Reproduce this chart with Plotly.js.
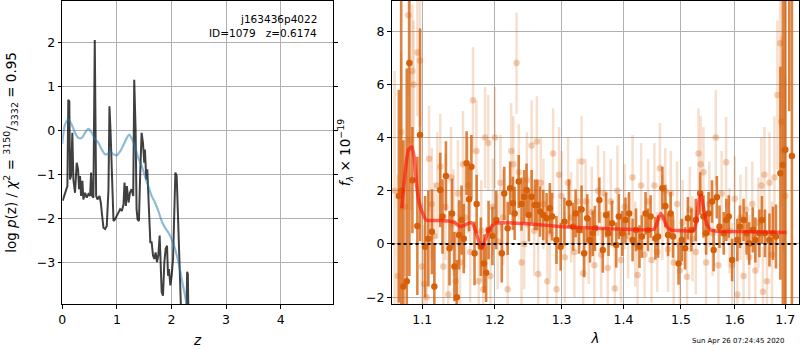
<!DOCTYPE html>
<html>
<head>
<meta charset="utf-8">
<script src="https://cdn.plot.ly/plotly-3.0.1.min.js"></script>
<style>html,body{margin:0;padding:0;background:#fff;}#chart{width:800px;height:350px;}</style>
</head>
<body>
<div id="chart"></div>
<script>
// ---------- left panel: log p(z) ----------
const zPz = [
 0.007,0.05,0.093,0.11,0.129,0.141,0.16,0.184,0.203,0.233,
 0.264,0.289,0.307,0.325,0.344,0.368,0.386,0.417,0.448,0.478,
 0.509,0.528,0.546,0.57,0.595,0.62,0.644,0.681,0.705,0.73,
 0.754,0.785,0.815,0.846,0.864,0.883,0.901,0.92,0.938,0.968,
 0.999,1.03,1.06,1.091,1.122,1.14,1.165,1.183,1.214,1.239,
 1.269,1.3,1.318,1.343,1.361,1.379,1.404,1.428,1.453,1.478,
 1.502,1.514,1.539,1.557,1.576,1.594,1.613,1.637,1.662,1.686,
 1.71,1.735,1.759,1.784,1.802,1.821,1.845,1.87,1.894,1.919,
 1.937,1.955,1.98,2.004,2.029,2.047,2.072,2.096,2.115,2.133,
 2.158,2.2,2.27,2.287,2.30,2.315,2.35];
const logPz = [
 -1.59,-1.41,-1.26,0.70,0.66,-1.11,-1.03,-0.05,-1.11,-1.41,
 -0.73,-0.88,-1.33,-1.03,-1.48,-1.14,-1.56,-1.41,-1.52,-1.44,
 -1.48,-0.95,-1.48,-1.52,2.05,-1.48,-1.56,-1.48,-1.63,-1.93,
 -2.20,-2.23,-2.16,-1.33,0.55,0.02,-0.73,-1.71,-2.05,-2.01,
 -1.93,-1.86,-1.78,-1.82,-1.67,-1.18,-1.71,-1.26,-1.63,-1.41,
 -1.33,-1.48,1.15,0.02,-1.78,-2.01,-2.05,-0.95,-0.05,-0.28,
 -0.73,-0.43,-1.11,-0.88,-1.48,-1.93,-2.53,-2.53,-2.83,-2.91,
 -2.76,-2.98,-2.83,-2.38,-2.98,-3.66,-3.74,-2.98,-2.68,-2.61,
 -3.29,-3.14,-3.51,-3.29,-2.91,-2.23,-0.95,-1.03,-1.93,-2.23,
 -4.4,-5.0,-4.6,-3.2,-3.25,-4.5,-5.0];
const zSmooth = [0.0,0.007,0.05,0.11,0.172,0.233,0.295,0.356,0.417,0.478,
 0.54,0.601,0.662,0.723,0.785,0.846,0.877,0.938,0.999,1.06,
 1.122,1.183,1.226,1.269,1.33,1.392,1.453,1.514,1.576,1.637,
 1.698,1.759,1.821,1.882,1.943,2.004,2.066,2.127,2.188,2.249,2.28,2.32];
const logPzSmooth = [-0.30,-0.20,0.135,0.25,0.135,-0.05,-0.165,-0.165,-0.05,0.04,
 -0.05,-0.20,-0.28,-0.43,-0.54,-0.52,-0.47,-0.54,-0.56,-0.47,
 -0.32,-0.165,-0.09,-0.17,-0.35,-0.62,-0.80,-1.03,-1.26,-1.48,
 -1.63,-1.82,-2.05,-2.20,-2.31,-2.46,-2.68,-2.98,-3.36,-3.74,-3.95,-4.3];
const zTicks = [0,1,2,3,4];
const pzTicks = [-3,-2,-1,0,1,2];

// ---------- right panel: spectrum ----------
const lamDark = [
 1.0695,1.0725,1.0753,1.0797,1.0831,1.087,1.0935,1.097,1.1037,1.108,
 1.1127,1.116,1.1239,1.127,1.1316,1.1365,1.14,1.1432,1.1465,1.1496,
 1.153,1.156,1.16,1.1635,1.1667,1.1711,1.1741,1.18,1.1844,1.1875,
 1.191,1.1965,1.202,1.21,1.2136,1.2186,1.2222,1.2262,1.2288,1.2348,
 1.239,1.2429,1.2465,1.25,1.2541,1.2591,1.2626,1.2667,1.2717,1.2768,
 1.2818,1.2853,1.292,1.2985,1.3044,1.3115,1.318,1.322,1.3275,1.3315,
 1.3357,1.3406,1.345,1.3495,1.353,1.3602,1.3658,1.3713,1.3752,1.381,
 1.388,1.3923,1.398,1.4035,1.4096,1.4155,1.4213,1.4272,1.4313,1.4377,
 1.4418,1.4464,1.4547,1.4594,1.467,1.4723,1.477,1.4816,1.4858,1.4957,
 1.5015,1.5075,1.5125,1.519,1.527,1.535,1.541,1.546,1.5505,1.557,
 1.56,1.566,1.571,1.579,1.584,1.5885,1.595,1.605,1.61,1.617,
 1.623,1.628,1.635,1.64,1.648,1.653,1.659,1.668,1.675,1.681,
 1.69,1.695,1.70,1.708,1.7135];
const fluxDark = [
 1.8,2.0,-1.6,-1.4,6.8,2.4,0.68,4.1,-0.1,0.2,
 0.46,-1.6,2.03,1.03,2.56,-0.16,1.15,-0.85,-2.0,0.34,
 0.9,0.2,3.04,1.68,2.9,-0.35,1.5,-0.1,-0.73,-1.08,
 0.53,0.3,0.9,-0.35,1.9,0.59,2.1,1.53,1.15,2.35,
 1.5,1.78,2.03,1.09,1.78,1.47,1.47,1.22,1.09,0.97,
 1.34,1.03,0.15,-0.1,0.84,1.53,0.65,1.15,0.53,1.3,
 -0.35,0.97,0.15,0.4,0.59,1.65,-0.23,1.09,0.4,0.78,
 -0.04,1.03,0.4,0.9,1.15,0.15,0.53,-0.1,0.28,1.15,
 0.53,1.03,0.21,0.28,2.1,1.43,0.34,1.15,0.28,-0.73,
 0.15,-0.16,0.97,0.53,0.9,1.9,1.03,0.4,1.15,1.6,
 -0.23,1.76,0.65,0.4,0.9,1.03,-0.6,0.15,0.65,0.9,
 0.4,0.02,0.53,0.15,0.4,0.9,0.4,0.15,0.4,0.28,
 2.66,2.97,3.54,10.5,3.31];
const errDark = [
 4.0,8.0,5.5,8.0,8.0,2.0,2.6,4.0,1.9,1.8,
 1.6,1.6,1.4,1.4,1.3,1.4,1.3,1.3,1.4,1.3,
 1.3,1.3,1.2,1.2,1.2,1.2,1.1,1.1,1.1,1.1,
 1.1,1.1,1.1,1.1,1.0,1.0,1.0,1.0,1.0,1.0,
 1.0,1.0,1.0,1.0,1.0,0.95,0.95,0.95,0.95,0.95,
 0.95,0.9,0.9,0.9,0.9,0.9,0.9,0.9,0.9,0.9,
 0.9,0.9,0.85,0.85,0.85,0.85,0.85,0.85,0.85,0.85,
 0.85,0.85,0.85,0.85,0.8,0.8,0.8,0.8,0.8,0.8,
 0.8,0.8,0.8,0.8,0.8,0.8,0.8,0.8,0.8,0.8,
 0.8,0.8,0.8,0.8,0.8,0.8,0.8,0.8,0.8,0.8,
 0.8,0.8,0.8,0.8,0.8,0.8,0.8,0.8,0.8,0.8,
 0.8,0.8,0.85,0.85,0.9,0.9,0.9,1.0,1.0,1.2,
 4.0,6.5,8.0,5.5,7.0];

const lamLight = [
 1.064,1.068,1.0725,1.0775,1.0818,1.0845,1.087,1.0885,1.0935,1.097,
 1.0995,1.1025,1.1058,1.109,1.1125,1.116,1.12,1.124,1.1281,1.131,
 1.1348,1.1385,1.142,1.145,1.148,1.151,1.155,1.158,1.162,1.165,
 1.169,1.1737,1.177,1.1806,1.1835,1.186,1.1906,1.1937,1.197,1.2,
 1.204,1.208,1.212,1.2186,1.2238,1.227,1.2316,1.235,1.239,1.243,
 1.247,1.2541,1.258,1.262,1.264,1.268,1.272,1.278,1.282,1.2868,
 1.292,1.296,1.3,1.305,1.31,1.315,1.32,1.325,1.3315,1.334,
 1.338,1.343,1.348,1.352,1.358,1.363,1.368,1.374,1.379,1.3857,
 1.39,1.396,1.402,1.408,1.4155,1.42,1.424,1.43,1.436,1.442,
 1.448,1.453,1.458,1.4627,1.467,1.472,1.477,1.482,1.487,1.493,
 1.498,1.503,1.511,1.516,1.521,1.527,1.532,1.536,1.541,1.546,
 1.552,1.558,1.564,1.569,1.575,1.5836,1.59,1.595,1.6,1.605,
 1.611,1.617,1.622,1.628,1.634,1.64,1.646,1.652,1.655,1.658,
 1.663,1.668,1.673,1.678,1.684,1.6895,1.692,1.696,1.7];
const fluxLight = [
 2.0,-1.2,4.2,1.4,8.6,3.9,6.5,6.0,7.2,6.9,
 -0.85,-1.5,-2.0,3.2,1.5,0.3,2.2,2.9,-0.85,1.4,
 -1.9,2.5,0.8,-1.4,1.9,-0.7,3.0,1.0,2.2,-0.3,
 5.4,3.5,-1.4,0.5,-1.7,4.0,3.8,-1.2,1.4,4.0,
 0.1,2.3,1.0,-1.7,3.5,3.0,6.8,2.7,-0.7,0.0,
 2.4,3.7,0.5,3.85,-1.13,2.3,1.5,-1.4,0.4,3.4,
 -1.7,2.6,1.8,-0.5,2.3,1.0,-0.3,1.6,3.1,-1.1,
 1.6,0.1,1.2,-0.8,2.0,-0.4,1.9,-0.9,1.6,-1.67,
 2.0,-0.6,1.4,0.3,2.5,0.0,-1.17,2.2,-0.4,1.6,
 -0.6,2.2,-0.3,2.85,1.0,2.0,-0.2,1.9,-0.7,1.5,
 -1.0,0.8,-1.23,1.3,0.2,-0.3,3.4,3.0,2.7,-0.7,
 1.5,0.4,4.0,-0.8,1.9,3.07,0.5,-0.8,1.7,-1.9,
 1.0,-1.2,1.3,-0.5,1.5,-1.0,0.8,2.2,-1.8,2.6,
 -1.4,2.3,-0.4,2.5,5.6,7.55,4.6,3.5,1.8];
const errLight = [
 4.5,3.8,3.0,2.6,3.0,2.6,2.5,2.4,2.4,2.5,
 2.4,2.2,2.2,2.0,2.1,2.0,2.0,2.0,1.9,2.0,
 1.9,1.9,2.0,1.9,2.0,1.8,2.0,1.9,1.8,1.9,
 2.0,1.9,1.9,1.9,1.8,1.9,1.8,1.8,1.8,1.9,
 1.8,1.8,1.8,1.8,1.8,1.8,1.9,1.8,1.7,1.7,
 1.8,1.7,1.7,1.7,1.7,1.7,1.7,1.7,1.7,1.7,
 1.7,1.8,1.7,1.7,1.7,1.7,1.7,1.6,1.7,1.7,
 1.6,1.6,1.7,1.6,1.7,1.6,1.6,1.6,1.6,1.6,
 1.7,1.6,1.6,1.6,1.6,1.6,1.6,1.6,1.6,1.6,
 1.6,1.6,1.5,1.7,1.6,1.6,1.6,1.6,1.6,1.6,
 1.6,1.6,1.6,1.6,1.6,1.6,1.7,1.8,1.7,1.6,
 1.6,1.6,1.8,1.6,1.6,1.7,1.6,1.6,1.6,1.6,
 1.6,1.6,1.6,1.6,1.6,1.7,1.7,1.8,1.7,1.8,
 1.8,1.9,2.0,2.3,2.8,3.2,3.2,3.8,4.5];

const lamModel = [1.0733,1.0775,1.0818,1.0862,1.0892,1.0927,1.0961,1.1005,1.105,1.1104,
 1.1239,1.1373,1.144,1.1507,1.155,1.16,1.1667,1.17,1.1737,1.178,
 1.1816,1.1847,1.1892,1.195,1.2005,1.2105,1.2515,1.3025,1.3555,1.4066,
 1.452,1.457,1.4612,1.4644,1.469,1.475,1.482,1.5,1.5228,1.5285,
 1.533,1.537,1.541,1.5466,1.5545,1.563,1.6245,1.7025];
const fluxModel = [1.34,2.66,3.54,3.66,3.29,2.16,1.53,1.15,0.9,0.88,
 0.88,0.85,0.8,0.65,0.68,0.75,0.8,0.68,0.4,0.03,
 -0.16,0.03,0.4,0.65,0.78,0.8,0.75,0.65,0.59,0.55,
 0.55,0.75,1.03,1.15,0.97,0.65,0.53,0.5,0.5,0.9,
 1.66,1.84,1.4,0.78,0.53,0.49,0.46,0.43];
const lamTicks = [1.1,1.2,1.3,1.4,1.5,1.6,1.7];
const lamTickText = ['1.1','1.2','1.3','1.4','1.5','1.6','1.7'];
const fluxTicks = [-2,0,2,4,6,8];

const ORANGE = '214,96,10';
const FONT = 'DejaVu Sans, sans-serif';

const traces = [
  {x: zPz, y: logPz, xaxis:'x', yaxis:'y', mode:'lines', type:'scatter',
   line:{color:'rgba(0,0,0,0.75)', width:2}, hoverinfo:'skip'},
  {x: zSmooth, y: logPzSmooth, xaxis:'x', yaxis:'y', mode:'lines', type:'scatter',
   line:{color:'rgba(31,119,180,0.5)', width:2.2, shape:'spline', smoothing:0.8}, hoverinfo:'skip'},
  {x: lamLight, y: fluxLight, xaxis:'x2', yaxis:'y2', mode:'markers', type:'scatter',
   marker:{color:'rgba('+ORANGE+',0.3)', size:6.5},
   error_y:{type:'data', array: errLight, visible:true, thickness:2.5, width:0, color:'rgba('+ORANGE+',0.2)'},
   hoverinfo:'skip'},
  {x: lamDark, y: fluxDark, xaxis:'x2', yaxis:'y2', mode:'markers', type:'scatter',
   marker:{color:'rgb('+ORANGE+')', size:6.5},
   error_y:{type:'data', array: errDark, visible:true, thickness:2.6, width:0, color:'rgba('+ORANGE+',0.78)'},
   hoverinfo:'skip'},
  {x: lamModel, y: fluxModel, xaxis:'x2', yaxis:'y2', mode:'lines', type:'scatter',
   line:{color:'rgba(255,20,10,0.65)', width:3.5, shape:'spline', smoothing:0.5}, hoverinfo:'skip'}
];

const axisStyle = {
  showline:true, linecolor:'black', linewidth:1, mirror:'ticks',
  ticks:'outside', ticklen:3.5, tickwidth:1, tickcolor:'black',
  showgrid:true, gridcolor:'#b0b0b0', gridwidth:1, zeroline:false,
  tickfont:{family:FONT, size:12.5, color:'black'}, automargin:false
};

const yTop = 1 - 1/350, yBot = 1 - 304/350;

const layout = {
  width:800, height:350, margin:{l:0, r:0, t:0, b:0},
  paper_bgcolor:'white', plot_bgcolor:'white', showlegend:false,
  font:{family:FONT, size:12.5, color:'black'},
  xaxis: Object.assign({}, axisStyle, {domain:[62.3/800, 333/800], anchor:'y', range:[0,4.96],
    tickmode:'array', tickvals:zTicks,
    title:{text:'<i>z</i>', font:{family:FONT, size:13.5}, standoff:10}}),
  yaxis: Object.assign({}, axisStyle, {domain:[yBot, yTop], anchor:'x', range:[-3.93,2.936],
    tickmode:'array', tickvals:pzTicks,
    title:{text:'log <i>p</i>(z) / <i>χ</i><sup>2</sup> = <sup>3150</sup>/<sub>3332</sub> = 0.95', font:{family:FONT, size:13.5}, standoff:17}}),
  xaxis2: Object.assign({}, axisStyle, {domain:[391.5/800, 799.3/800], anchor:'y2', type:'log',
    range:[0.02535,0.23774], tickmode:'array', tickvals:lamTicks, ticktext:lamTickText,
    title:{text:'<i>λ</i>', font:{family:FONT, size:13.5}, standoff:8}}),
  yaxis2: Object.assign({}, axisStyle, {domain:[yBot, yTop], anchor:'x2', range:[-2.256,9.135],
    tickmode:'array', tickvals:fluxTicks,
    title:{text:'<i>f</i><sub><i>λ</i></sub> × 10<sup>−19</sup>', font:{family:FONT, size:13.5}, standoff:12}}),
  shapes:[
    {type:'line', xref:'x2 domain', x0:0, x1:1, yref:'y2', y0:0, y1:0,
     line:{color:'black', width:2, dash:'dot'}, layer:'above'}
  ],
  annotations:[
    {text:'j163436p4022', xref:'paper', yref:'paper', x:318.5/800, y:1-19/350,
     xanchor:'right', yanchor:'middle', showarrow:false, font:{family:FONT, size:10.5, color:'black'}},
    {text:'ID=1079\u00a0\u00a0\u00a0z=0.6174', xref:'paper', yref:'paper', x:318.5/800, y:1-33/350,
     xanchor:'right', yanchor:'middle', showarrow:false, font:{family:FONT, size:10.5, color:'black'}},
    {text:'Sun Apr 26 07:24:45 2020', xref:'paper', yref:'paper', x:787/800, y:1-340.5/350,
     xanchor:'right', yanchor:'middle', showarrow:false, font:{family:FONT, size:7, color:'black'}}
  ]
};

Plotly.newPlot('chart', traces, layout, {staticPlot:true, displayModeBar:false});
</script>
</body>
</html>
